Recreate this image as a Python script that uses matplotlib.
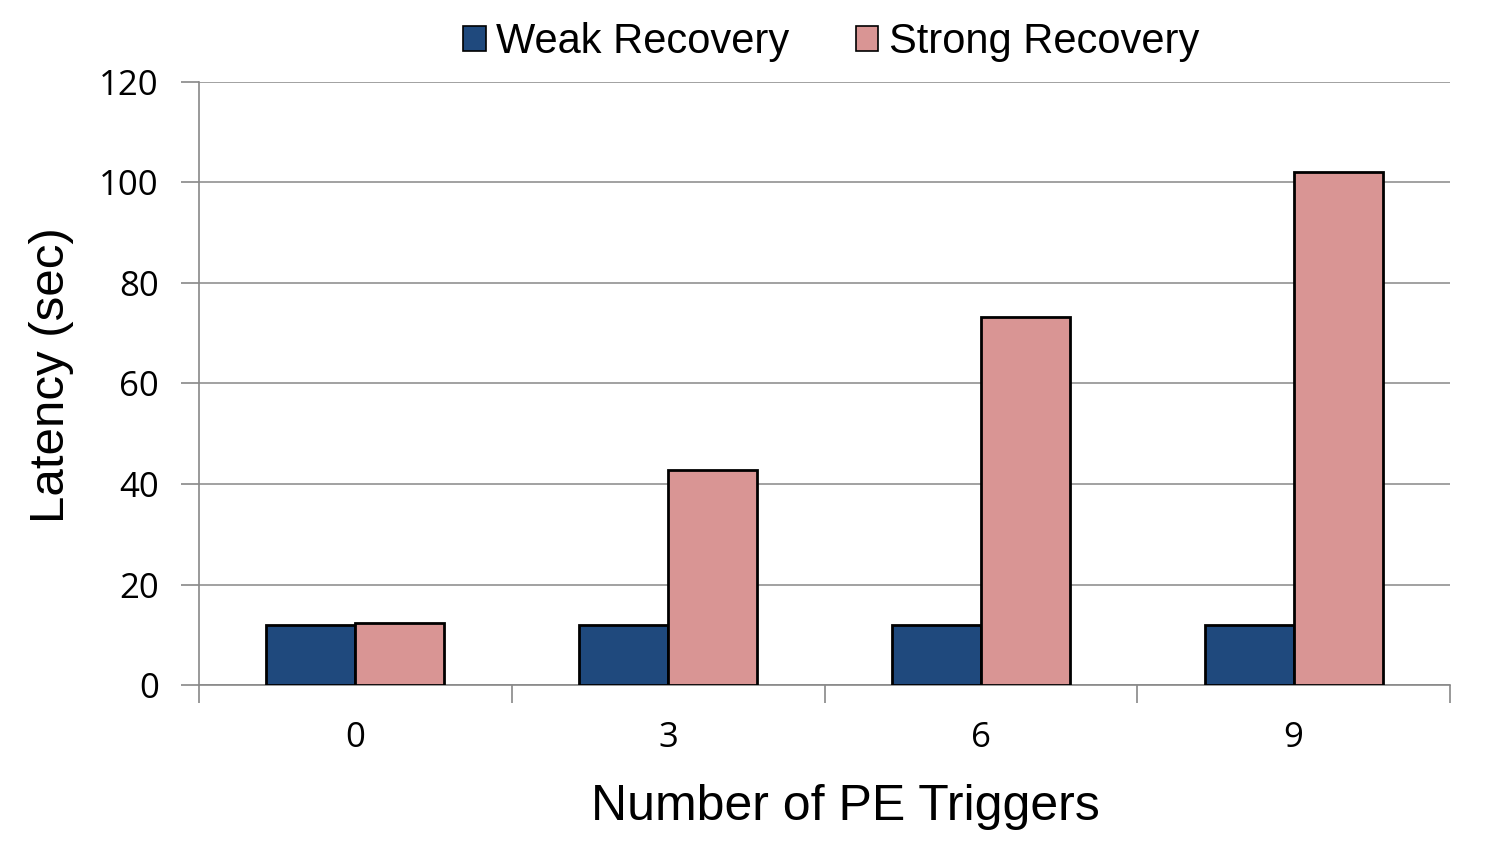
import matplotlib
matplotlib.use("Agg")
import matplotlib.pyplot as plt
import numpy as np

categories = ["0", "3", "6", "9"]
weak = [12, 12, 12, 12]
strong = [12.3, 42.8, 73.2, 102.1]
series_names = ["Weak Recovery", "Strong Recovery"]
yticks = [0, 20, 40, 60, 80, 100, 120]

fig = plt.figure(figsize=(15.05, 8.61), dpi=100)
ax = fig.add_axes([0.1322, 0.2044, 0.8313, 0.7004])

x = np.arange(len(categories))
w = 0.285
ax.bar(x - w/2, weak, w, color="#1f497d", edgecolor="black", linewidth=2, label=series_names[0], zorder=3)
ax.bar(x + w/2, strong, w, color="#d99594", edgecolor="black", linewidth=2, label=series_names[1], zorder=3)

ax.set_xlim(-0.5, len(categories) - 0.5)
ax.set_ylim(0, 120)
tick_font = ["Open Sans", "DejaVu Sans"]
ax.set_yticks(yticks)
ax.set_yticklabels([str(t) for t in yticks], fontsize=25, family=tick_font)
ax.set_xticks(x)
ax.set_xticklabels(categories, fontsize=25, family=tick_font)
ax.tick_params(axis="x", length=0, pad=26)
ax.tick_params(axis="y", length=13, color="#888888", width=1.2, pad=16)
# category boundary ticks
ax.set_xticks(np.arange(-0.5, len(categories)), minor=True)
ax.tick_params(axis="x", which="minor", length=13, color="#888888", width=1.2, direction="out")

ax.grid(axis="y", color="#888888", linewidth=1.1, zorder=0)
for s in ["top", "right"]:
    ax.spines[s].set_visible(False)
ax.spines["left"].set_color("#888888")
ax.spines["bottom"].set_color("#888888")
ax.spines["left"].set_linewidth(1.2)
ax.spines["bottom"].set_linewidth(1.2)

label_font = ["Liberation Sans", "DejaVu Sans"]
ax.set_ylabel("Latency (sec)", fontsize=35.5, family=label_font, labelpad=16)
ax.yaxis.set_label_coords(-0.1, 0.514)
ax.set_xlabel("Number of PE Triggers", fontsize=36, family=label_font, labelpad=21)
ax.xaxis.label.set_x(0.517)

leg = fig.legend(loc="center", bbox_to_anchor=(831.5/1505, 1 - 42/861), ncol=2, frameon=False,
                 prop={"family": label_font, "size": 30},
                 handlelength=0.53, handleheight=0.53, handletextpad=0.26, columnspacing=1.6,
                 borderaxespad=0, borderpad=0)
for h in leg.legend_handles:
    h.set_linewidth(1.2)

fig.savefig("out.png", dpi=100)
